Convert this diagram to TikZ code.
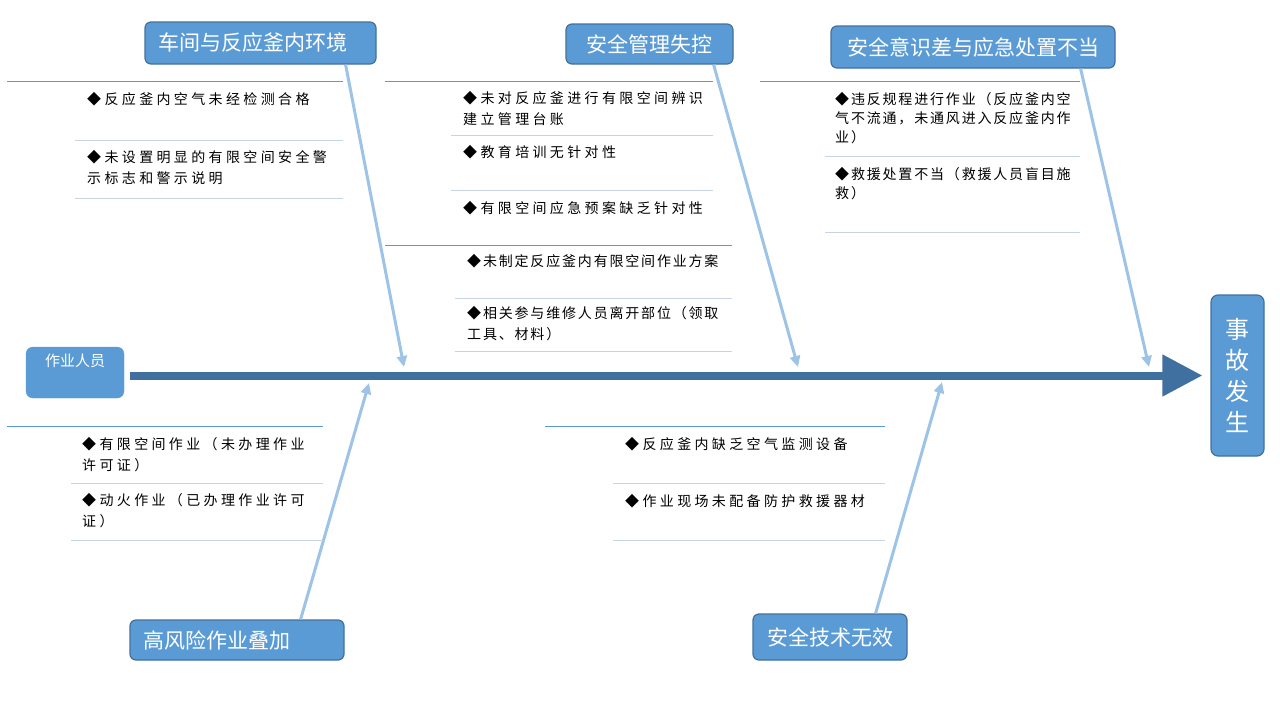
\documentclass[tikz,border=0pt]{standalone}
\usepackage{fontspec}
\setmainfont{Noto Sans CJK SC}
\newfontfamily\itemfont[LetterSpace=24]{Noto Sans CJK SC}
\newfontfamily\itemfontn[LetterSpace=13]{Noto Sans CJK SC}
\usetikzlibrary{arrows.meta,positioning}
\definecolor{fbblue}{RGB}{91,155,213}
\definecolor{fbnavy}{RGB}{65,113,156}
\definecolor{fbspine}{RGB}{64,112,160}
\definecolor{fbbone}{RGB}{157,195,230}
\definecolor{fbrule}{RGB}{200,212,226}

\begin{document}
\begin{tikzpicture}[x=1pt, y=-1pt,
  cat/.style={rectangle, rounded corners=6pt, draw=fbnavy, line width=1.2pt, fill=fbblue,
    text=white, font=\fontsize{21}{24}\selectfont, inner sep=0pt},
  effect/.style={rectangle, rounded corners=7pt, draw=fbnavy, line width=1.2pt, fill=fbblue,
    text=white, font=\fontsize{24}{31}\selectfont, align=center, inner sep=0pt,
    minimum width=53pt, minimum height=161pt},
  person/.style={rectangle, rounded corners=7pt, fill=fbblue, draw=fbblue,
    minimum width=98pt, minimum height=51pt},
  item/.style={anchor=north west, inner sep=0pt, align=left,
    font=\itemfont\fontsize{14}{21}\selectfont},
  itemn/.style={anchor=north west, inner sep=0pt, align=left,
    font=\itemfontn\fontsize{14}{19}\selectfont},
  div/.style={draw=fbblue, line width=1pt},
  rule/.style={draw=fbrule, line width=1pt},
  bone/.style={draw=fbbone, line width=3pt, -{Triangle[length=11pt,width=10pt]}},
  spine/.style={draw=fbspine, line width=8pt, -{Triangle[length=40pt,width=40pt]}}]

\useasboundingbox (0,0) rectangle (1280,720);

% head and tail
\node[effect] (e) at (1237.5,375.5) {事\\故\\发\\生};
\node[person, label={[anchor=north, text=white, inner sep=7pt,
  font=\fontsize{15}{18}\selectfont]north:作业人员}] (p) at (75,372.5) {};
\draw[spine, shorten <=6pt, shorten >=8pt] (p.east |- e.west) -- (e.west);

% categories
\node[cat, text width=205pt, inner xsep=13pt, align=left, minimum height=42pt] (c1) at (260.5,43) {车间与反应釜内环境};
\node[cat, minimum width=167pt, minimum height=40pt] (c2) at (649.5,44) {安全管理失控};
\node[cat, minimum width=284pt, minimum height=42pt] (c3) at (973,47) {安全意识差与应急处置不当};
\node[cat, text width=188pt, inner xsep=13pt, align=left, minimum height=40pt] (c4) at (237,640) {高风险作业叠加};
\node[cat, minimum width=154pt, minimum height=46pt] (c5) at (830,637) {安全技术无效};

\coordinate (h1) at (404,367);
\coordinate (h2) at (798,367);
\coordinate (h3) at (1149,367);
\coordinate (h4) at (369,383);
\coordinate (h5) at (942,382);

\draw[bone] ([xshift=-31pt]c1.south east) -- (h1);
\draw[bone] ([xshift=-20pt]c2.south east) -- (h2);
\draw[bone] ([xshift=-35pt]c3.south east) -- (h3);
\draw[bone] ([xshift=-44pt]c4.north east) -- (h4);
\draw[bone] ([xshift=-32pt]c5.north east) -- (h5);

% dividers
\draw[div] (7,81) -- (343,81);
\draw[div] (385,81) -- (713,81);
\draw[div] (760,81) -- (1080,81);
\draw[div] (385,245) -- (732,245);
\draw[div] (7,426) -- (323,426);
\draw[div] (545,426) -- (885,426);

\draw[rule] (75,140) -- (343,140);
\draw[rule] (75,198) -- (343,198);
\draw[rule] (451,135) -- (713,135);
\draw[rule] (451,190) -- (713,190);
\draw[rule] (455,298) -- (732,298);
\draw[rule] (455,351) -- (732,351);
\draw[rule] (825,156) -- (1080,156);
\draw[rule] (825,232) -- (1080,232);
\draw[rule] (71,483) -- (323,483);
\draw[rule] (71,540) -- (323,540);
\draw[rule] (613,483) -- (885,483);
\draw[rule] (613,540) -- (885,540);

% causes
\node[item] (a1) at (87,92) {◆反应釜内空气未经检测合格};
\node[item] (a2) at (87,150) {◆未设置明显的有限空间安全警\\示标志和警示说明};
\node[item] (b1) at (463,91) {◆未对反应釜进行有限空间辨识\\建立管理台账};
\node[item] (b2) at (463,145) {◆教育培训无针对性};
\node[item] (b3) at (463,201) {◆有限空间应急预案缺乏针对性};
\node[itemn] (b4) at (467,254) {◆未制定反应釜内有限空间作业方案};
\node[itemn, font=\itemfontn\fontsize{14}{21}\selectfont] (b5) at (467,306) {◆相关参与维修人员离开部位（领取\\工具、材料）};
\node[itemn] (d1) at (835,92) {◆违反规程进行作业（反应釜内空\\气不流通，未通风进入反应釜内作\\业）};
\node[itemn] (d2) at (835,167) {◆救援处置不当（救援人员盲目施\\救）};
\node[item] (f1) at (82,437) {◆有限空间作业（未办理作业\\许可证）};
\node[item] (f2) at (82,493) {◆动火作业（已办理作业许可\\证）};
\node[item] (g1) at (625,437) {◆反应釜内缺乏空气监测设备};
\node[item] (g2) at (625,494) {◆作业现场未配备防护救援器材};
\end{tikzpicture}
\end{document}
